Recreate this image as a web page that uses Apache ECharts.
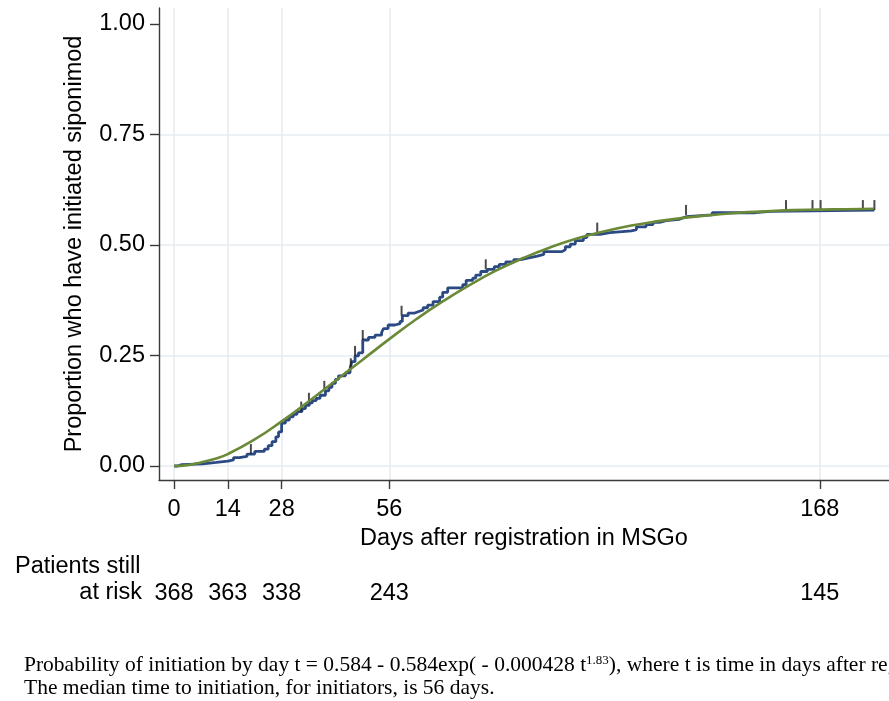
<!DOCTYPE html>
<html>
<head>
<meta charset="utf-8">
<script src="https://cdn.jsdelivr.net/npm/echarts@6/dist/echarts.min.js"></script>
<style>
  html, body { margin: 0; padding: 0; background: #fff; }
  #chart { width: 889px; height: 701px; }
</style>
</head>
<body>
<div id="chart"></div>
<script>
// Axis ticks and the numbers-at-risk row
const xTicks = [0, 14, 28, 56, 168];
const yTicks = [0, 0.25, 0.5, 0.75, 1];
const yGridTicks = [0, 0.25, 0.5, 0.75];
const atRisk = [368, 363, 338, 243, 145];

// Kaplan-Meier cumulative initiation (step changes: day, proportion)
const kmTimes = [0, 1, 2, 7.5, 11, 14, 15.5, 17, 19, 21, 23.5, 24.5, 25.5, 26.5, 27.2, 28, 29, 30, 31, 32,
  33.3, 34.2, 35.2, 36, 37, 38, 39.4, 40.3, 41.1, 42, 42.8, 44.6, 45.8, 46.3, 47.1, 48, 49.1, 50.6, 52.3, 54,
  54.5, 55.7, 57.5, 58.8, 59.4, 60.9, 62.6, 63.5, 64.8, 66, 67.4, 69.1, 69.9, 71.2, 75.1, 76, 77.7, 78.5, 79.8, 81.5,
  83.3, 84.6, 86.3, 88.4, 90.2, 92.3, 94.5, 96.2, 100.9, 101.8, 103.1, 104.4, 106.5, 107.4, 110.8, 113.4, 119, 120.3, 122.8, 124.6,
  126.3, 128, 131.4, 132.3, 133.2, 140, 151.2, 155.1, 182.2];
const kmValues = [0, 0.003, 0.005, 0.008, 0.011, 0.014, 0.019, 0.022, 0.027, 0.033, 0.038, 0.046, 0.055, 0.066, 0.077, 0.097, 0.104, 0.111, 0.117, 0.123,
  0.130, 0.137, 0.143, 0.148, 0.153, 0.160, 0.170, 0.178, 0.187, 0.196, 0.204, 0.211, 0.221, 0.236, 0.249, 0.256, 0.285, 0.291, 0.296, 0.302,
  0.311, 0.319, 0.322, 0.327, 0.340, 0.346, 0.349, 0.353, 0.358, 0.364, 0.372, 0.382, 0.393, 0.403, 0.410, 0.420, 0.425, 0.432, 0.440, 0.445,
  0.451, 0.456, 0.462, 0.467, 0.471, 0.475, 0.479, 0.485, 0.489, 0.496, 0.502, 0.510, 0.517, 0.524, 0.528, 0.532, 0.535, 0.541, 0.546, 0.551,
  0.555, 0.558, 0.561, 0.564, 0.568, 0.573, 0.576, 0.579, 0.579];

// Censored observations (day, proportion at that day)
const censorTimes = [20, 33.1, 35.1, 39.1, 46, 47.1, 49.1, 59.2, 81.1, 110.1, 133.2, 159.2, 166.1, 168.2, 179.2, 182.2];
const censorValues = [0.027, 0.123, 0.143, 0.170, 0.221, 0.249, 0.285, 0.340, 0.445, 0.528, 0.568, 0.579, 0.579, 0.579, 0.579, 0.579];

// Fitted parametric curve (day, proportion)
const fitTimes = [0, 3.5, 7, 10.5, 14, 21, 28, 35, 42, 49, 56, 63, 70, 77, 84, 91, 98, 105, 112, 119, 126, 133, 140, 147, 154, 161, 168, 175, 182];
const fitValues = [0, 0.002, 0.008, 0.016, 0.027, 0.060, 0.101, 0.146, 0.193, 0.240, 0.287, 0.332, 0.373, 0.410, 0.443, 0.471, 0.495, 0.515,
  0.531, 0.544, 0.554, 0.562, 0.568, 0.573, 0.576, 0.579, 0.580, 0.581, 0.582];

const zip = (a, b) => a.map((v, i) => [v, b[i]]);

const SANS = 'Liberation Sans, Arial, Helvetica, sans-serif';
const SERIF = 'Liberation Serif, Times New Roman, serif';
const FS = 23.5;
const TEXT = '#000';
const AXIS_COLOR = '#3a3a3a';
const GRID_COLOR = '#e5edf1';
const X_MIN = -3.9, X_MAX = 186;
const Y_MIN = -0.0317, Y_MAX = 1.0362;

const chart = echarts.init(document.getElementById('chart'), null, { renderer: 'canvas' });

chart.setOption({
  animation: false,
  backgroundColor: '#fff',
  grid: { left: 159, right: -6, top: 8, bottom: 221, containLabel: false },
  xAxis: [
    {
      type: 'value', min: X_MIN, max: X_MAX, position: 'bottom',
      name: 'Days after registration in MSGo', nameLocation: 'middle', nameGap: 40,
      nameTextStyle: { fontFamily: SANS, fontSize: FS, color: TEXT },
      axisLine: { show: true, onZero: false, lineStyle: { color: AXIS_COLOR, width: 1.4 } },
      axisTick: { show: true, customValues: xTicks, length: 9, lineStyle: { color: AXIS_COLOR, width: 1.4 } },
      axisLabel: { customValues: xTicks, fontFamily: SANS, fontSize: FS, color: TEXT, margin: 18 },
      splitLine: { show: true, lineStyle: { color: GRID_COLOR, width: 1.6 } }
    },
    {
      // numbers at risk, aligned under the day ticks
      type: 'value', min: X_MIN, max: X_MAX, position: 'bottom', offset: 94,
      axisLine: { show: false }, axisTick: { show: false, customValues: xTicks }, splitLine: { show: false },
      axisLabel: {
        customValues: xTicks, fontFamily: SANS, fontSize: FS, color: TEXT, margin: 8,
        formatter: v => String(atRisk[xTicks.indexOf(v)])
      }
    }
  ],
  yAxis: [
    {
      type: 'value', min: Y_MIN, max: Y_MAX, position: 'left',
      name: 'Proportion who have initiated siponimod', nameLocation: 'middle', nameGap: 72, nameRotate: 90,
      nameTextStyle: { fontFamily: SANS, fontSize: FS, color: TEXT },
      axisLine: { show: true, onZero: false, lineStyle: { color: AXIS_COLOR, width: 1.4 } },
      axisTick: { show: true, customValues: yTicks, length: 9, lineStyle: { color: AXIS_COLOR, width: 1.4 } },
      axisLabel: { customValues: yTicks, fontFamily: SANS, fontSize: FS, color: TEXT, margin: 14,
        formatter: v => v.toFixed(2) },
      splitLine: { show: false }
    },
    {
      // horizontal grid lines
      type: 'value', min: Y_MIN, max: Y_MAX, position: 'left',
      axisLine: { show: false, onZero: false }, axisLabel: { show: false },
      axisTick: { show: false, customValues: yGridTicks },
      splitLine: { show: true, lineStyle: { color: GRID_COLOR, width: 1.6 } }
    }
  ],
  series: [
    {
      name: 'Kaplan-Meier', type: 'line', step: 'end', showSymbol: false, symbol: 'none',
      data: zip(kmTimes, kmValues),
      lineStyle: { color: '#2b4a84', width: 2.8 }, z: 3
    },
    {
      name: 'Censored', type: 'scatter', data: zip(censorTimes, censorValues),
      symbol: 'rect', symbolSize: [2, 10], symbolOffset: [0, -5],
      itemStyle: { color: '#1e1e1e' }, z: 4
    },
    {
      name: 'Fitted', type: 'line', smooth: true, showSymbol: false, symbol: 'none',
      data: zip(fitTimes, fitValues),
      lineStyle: { color: '#6b8a38', width: 2.6 }, z: 5
    }
  ],
  graphic: [
    { type: 'text', x: 15, y: 567, style: { text: 'Patients still', fontFamily: SANS, fontSize: FS, fill: TEXT, align: 'left', verticalAlign: 'middle' } },
    { type: 'text', x: 142, y: 593, style: { text: 'at risk', fontFamily: SANS, fontSize: FS, fill: TEXT, align: 'right', verticalAlign: 'middle' } },
    {
      type: 'text', x: 24, y: 665,
      style: {
        text: 'Probability of initiation by day t = 0.584 - 0.584exp( - 0.000428 t{sup|1.83}), where t is time in days after registration in MSGo.',
        fontFamily: SERIF, fontSize: 21.5, fill: TEXT, align: 'left', verticalAlign: 'middle',
        rich: { sup: { fontFamily: SERIF, fontSize: 13, fill: TEXT, verticalAlign: 'top', lineHeight: 13 } }
      }
    },
    { type: 'text', x: 24, y: 688, style: { text: 'The median time to initiation, for initiators, is 56 days.', fontFamily: SERIF, fontSize: 21.5, fill: TEXT, align: 'left', verticalAlign: 'middle' } }
  ]
});
</script>
</body>
</html>
